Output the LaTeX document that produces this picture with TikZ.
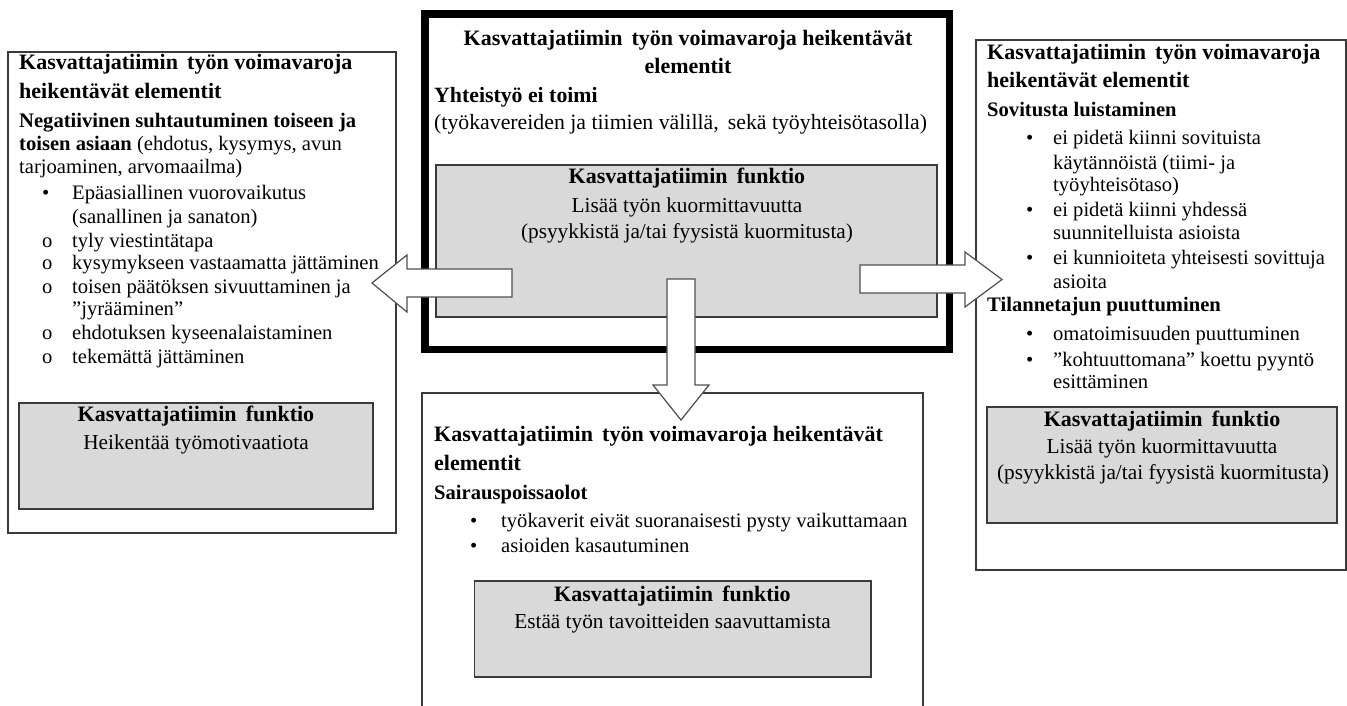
\documentclass[tikz,border=0pt]{standalone}
\usepackage{fontspec}
\setmainfont{Liberation Serif}
\definecolor{boxc}{HTML}{3A3A3A}
\definecolor{grayf}{HTML}{D9D9D9}
\definecolor{arrc}{HTML}{505050}
\tikzset{
  box/.style={draw=boxc, line width=1.3pt, inner sep=0pt, outer sep=0pt, anchor=north west},
  gbox/.style={box, fill=grayf},
  framebox/.style={draw=black, line width=7.5pt, inner sep=0pt, outer sep=0pt, anchor=north west},
  txt/.style={anchor=base west, inner sep=0pt, font=\fontsize{20.6}{24}\selectfont},
  ttl/.style={txt, font=\fontsize{22}{24}\selectfont\bfseries},
  ctitle/.style={ttl, anchor=base},
  cbody/.style={txt, font=\fontsize{21.8}{24}\selectfont},
  gtitle/.style={ctitle},
  gbody/.style={txt, anchor=base, font=\fontsize{21.3}{24}\selectfont},
  arr/.style={draw=arrc, fill=white, line width=1.2pt, line join=miter},
}
\newcommand\blt[2][30pt]{\makebox[#1][l]{\textbullet}#2}
\newcommand\sub[1]{\makebox[30pt][l]{o}#1}
\begin{document}
\begin{tikzpicture}[x=1pt,y=-1pt]
\useasboundingbox (0,0) rectangle (1347,706);
\clip (0,0) rectangle (1347,706);
\fill[white] (0,0) rectangle (1347,706);

% ---------- left box ----------
\node[box, minimum width=388pt, minimum height=481pt] (L) at (8,52) {};
\node[ttl] (l1) at (19,70) {Kasvattajatiimin\, työn voimavaroja};
\node[ttl] (l2) at (19,99) {heikentävät elementit};
\node[txt] (l3) at (19,128) {\bfseries Negatiivinen suhtautuminen toiseen ja};
\node[txt] (l4) at (19,151) {\textbf{toisen asiaan} (ehdotus, kysymys, avun};
\node[txt] (l5) at (19,174) {tarjoaminen, arvomaailma)};
\node[txt] (l6) at (42,200) {\blt{Epäasiallinen vuorovaikutus}};
\node[txt] (l7) at (72,223) {(sanallinen ja sanaton)};
\node[txt] (l8) at (42,247) {\sub{tyly viestintätapa}};
\node[txt] (l9) at (42,269) {\sub{kysymykseen vastaamatta jättäminen}};
\node[txt] (l10) at (42,293) {\sub{toisen päätöksen sivuuttaminen ja}};
\node[txt] (l11) at (72,315) {”jyrääminen”};
\node[txt] (l12) at (42,339) {\sub{ehdotuksen kyseenalaistaminen}};
\node[txt] (l13) at (42,363) {\sub{tekemättä jättäminen}};
\node[gbox, minimum width=354pt, minimum height=106pt] (LG) at (19,403) {};
\node[gtitle] (lg1) at (196,421) {Kasvattajatiimin\, funktio};
\node[gbody] (lg2) at (196,449) {Heikentää työmotivaatiota};

% ---------- right box ----------
\node[box, minimum width=370pt, minimum height=530pt] (R) at (976,40) {};
\node[ttl] (r1) at (987,60) {Kasvattajatiimin\, työn voimavaroja};
\node[ttl] (r2) at (987,88) {heikentävät elementit};
\node[txt] (r3) at (987,117) {\bfseries Sovitusta luistaminen};
\node[txt] (r4) at (1026,145) {\blt[27pt]{ei pidetä kiinni sovituista}};
\node[txt] (r5) at (1053,169) {käytännöistä (tiimi- ja};
\node[txt] (r6) at (1053,192) {työyhteisötaso)};
\node[txt] (r7) at (1026,216) {\blt[27pt]{ei pidetä kiinni yhdessä}};
\node[txt] (r8) at (1053,239) {suunnitelluista asioista};
\node[txt] (r9) at (1026,264) {\blt[27pt]{ei kunnioiteta yhteisesti sovittuja}};
\node[txt] (r10) at (1053,288) {asioita};
\node[txt] (r11) at (987,311) {\bfseries Tilannetajun puuttuminen};
\node[txt] (r12) at (1026,340) {\blt[27pt]{omatoimisuuden puuttuminen}};
\node[txt] (r13) at (1026,366) {\blt[27pt]{”kohtuuttomana” koettu pyyntö}};
\node[txt] (r14) at (1053,388) {esittäminen};
\node[gbox, minimum width=350pt, minimum height=116pt] (RG) at (987,407) {};
\node[gtitle] (rg1) at (1162,426) {Kasvattajatiimin\, funktio};
\node[gbody] (rg2) at (1162,453) {Lisää työn kuormittavuutta};
\node[gbody] (rg3) at (1163,479) {(psyykkistä ja/tai fyysistä kuormitusta)};

% ---------- bottom box ----------
\node[box, minimum width=501pt, minimum height=330pt] (B) at (422,393) {};
\node[ttl] (b1) at (434,441) {Kasvattajatiimin\, työn voimavaroja heikentävät};
\node[ttl] (b2) at (434,470) {elementit};
\node[txt] (b3) at (434,499) {\bfseries Sairauspoissaolot};
\node[txt] (b4) at (470,527) {\blt[31pt]{työkaverit eivät suoranaisesti pysty vaikuttamaan}};
\node[txt] (b5) at (470,552) {\blt[31pt]{asioiden kasautuminen}};
\node[gbox, minimum width=396.5pt, minimum height=96pt] (BG) at (474.5,581) {};
\node[gtitle] (bg1) at (672.5,601) {Kasvattajatiimin\, funktio};
\node[gbody] (bg2) at (672.5,628) {Estää työn tavoitteiden saavuttamista};

% ---------- centre box ----------
\node[framebox, minimum width=524.5pt, minimum height=335.5pt] (C) at (425,14) {};
\node[ctitle] (c1) at (688,46) {Kasvattajatiimin\, työn voimavaroja heikentävät};
\node[ctitle] (c2) at (688,74) {elementit};
\node[cbody] (c3) at (434,103) {\bfseries Yhteistyö ei toimi};
\node[cbody] (c4) at (434,130) {(työkavereiden ja tiimien välillä,\, sekä työyhteisötasolla)};
\node[gbox, minimum width=501pt, minimum height=152pt] (CG) at (436,165) {};
\node[gtitle] (cg1) at (687,183) {Kasvattajatiimin\, funktio};
\node[gbody] (cg2) at (687,212) {Lisää työn kuormittavuutta};
\node[gbody] (cg3) at (687,238) {(psyykkistä ja/tai fyysistä kuormitusta)};

% ---------- block arrows ----------
\draw[arr] (512,269) -- (407,269) -- (407,255) -- (372,283) -- (407,312) -- (407,297) -- (512,297) -- cycle;
\draw[arr] (860,265) -- (965,265) -- (965,252) -- (1002,279.5) -- (965,307) -- (965,293) -- (860,293) -- cycle;
\draw[arr] (667,279) -- (695,279) -- (695,385) -- (709,385) -- (681,420) -- (653,385) -- (667,385) -- cycle;
\end{tikzpicture}
\end{document}
